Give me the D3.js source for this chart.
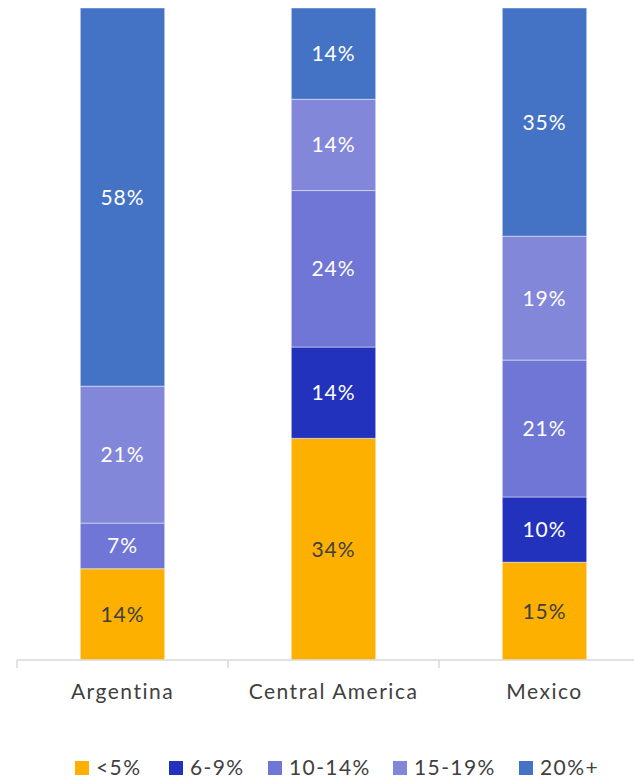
<!DOCTYPE html>
<html>
<head>
<meta charset="utf-8">
<script src="https://cdn.jsdelivr.net/npm/d3@7"></script>
<style>
  body { margin: 0; background: #fff; }
  text { font-family: Lato, "Open Sans", sans-serif; }
</style>
</head>
<body>
<div id="chart"></div>
<script>
// categories along the x axis
var regions = ["Argentina", "Central America", "Mexico"];
// series, bottom to top
var seriesNames = ["<5%", "6-9%", "10-14%", "15-19%", "20%+"];
var under5 = [14, 34, 15];
var from6to9 = [0, 14, 10];
var from10to14 = [7, 24, 21];
var from15to19 = [21, 14, 19];
var over20 = [58, 14, 35];
var yTicks = [0, 100];

var colors = ["#fdb000", "#2232bd", "#6f76d5", "#8387d9", "#4473c5"];
var labelColors = ["#404040", "#fff", "#fff", "#fff", "#fff"];

var width = 634, height = 777;
var plotLeft = 17, plotRight = 650, plotTop = 8, plotBottom = 660;

var allSeries = [under5, from6to9, from10to14, from15to19, over20];

// build rows for d3.stack
var rows = regions.map(function (r, i) {
    var row = { region: r };
    seriesNames.forEach(function (s, j) { row[s] = allSeries[j][i]; });
    return row;
});

var stacked = d3.stack().keys(seriesNames)(rows);

var svg = d3.select("#chart").append("svg")
    .attr("width", width)
    .attr("height", height);

var x = d3.scaleBand()
    .domain(regions)
    .range([plotLeft, plotRight])
    .paddingInner(0.6)
    .paddingOuter(0.3);

var y = d3.scaleLinear()
    .domain(d3.extent(yTicks))
    .range([plotBottom, plotTop]);

var layers = svg.selectAll("g.layer")
    .data(stacked)
    .enter()
    .append("g")
    .attr("class", "layer")
    .attr("fill", function (d, i) { return colors[i]; });

layers.selectAll("rect")
    .data(function (d) { return d.filter(function (p) { return p[1] - p[0] > 0; }); })
    .enter()
    .append("rect")
    .attr("x", function (d) { return x(d.data.region); })
    .attr("y", function (d) { return y(d[1]); })
    .attr("width", x.bandwidth())
    .attr("height", function (d) { return y(d[0]) - y(d[1]); })
    .attr("stroke", "rgba(255,255,255,0.45)")
    .attr("stroke-width", 1);

// value labels in the middle of each segment
stacked.forEach(function (layer, i) {
    svg.append("g").selectAll("text")
        .data(layer.filter(function (p) { return p[1] - p[0] > 0; }))
        .enter()
        .append("text")
        .attr("x", function (d) { return x(d.data.region) + x.bandwidth() / 2; })
        .attr("y", function (d) { return y((d[0] + d[1]) / 2); })
        .attr("dy", "0.36em")
        .attr("text-anchor", "middle")
        .attr("fill", labelColors[i])
        .style("font-size", "21px")
        .style("letter-spacing", "1px")
        .text(function (d) { return (d[1] - d[0]) + "%"; });
});

// x axis: ticks between categories
var xAxis = svg.append("g")
    .attr("transform", "translate(0," + plotBottom + ")");

xAxis.append("line")
    .attr("x1", plotLeft)
    .attr("x2", plotRight)
    .attr("stroke", "#d9d9d9")
    .attr("stroke-width", 1.5);

var gap = (x.step() - x.bandwidth()) / 2;
xAxis.selectAll("line.tick")
    .data(regions)
    .enter()
    .append("line")
    .attr("class", "tick")
    .attr("x1", function (d) { return x(d) - gap; })
    .attr("x2", function (d) { return x(d) - gap; })
    .attr("y1", 0)
    .attr("y2", 8)
    .attr("stroke", "#d9d9d9")
    .attr("stroke-width", 1.5);

xAxis.selectAll("text")
    .data(regions)
    .enter()
    .append("text")
    .attr("x", function (d) { return x(d) + x.bandwidth() / 2; })
    .attr("y", 39)
    .attr("text-anchor", "middle")
    .attr("fill", "#404040")
    .style("font-size", "21px")
    .style("letter-spacing", "1.5px")
    .text(function (d) { return d; });

// legend
var legendX = [75, 169, 268, 393, 519];
var legend = svg.append("g")
    .attr("transform", "translate(0,761)");

legend.selectAll("rect")
    .data(seriesNames)
    .enter()
    .append("rect")
    .attr("x", function (d, i) { return legendX[i]; })
    .attr("y", 0)
    .attr("width", 14)
    .attr("height", 14)
    .attr("fill", function (d, i) { return colors[i]; });

legend.selectAll("text")
    .data(seriesNames)
    .enter()
    .append("text")
    .attr("x", function (d, i) { return legendX[i] + 21; })
    .attr("y", 13.5)
    .attr("fill", "#404040")
    .style("font-size", "21px")
    .style("letter-spacing", "1.4px")
    .text(function (d) { return d; });
</script>
</body>
</html>
